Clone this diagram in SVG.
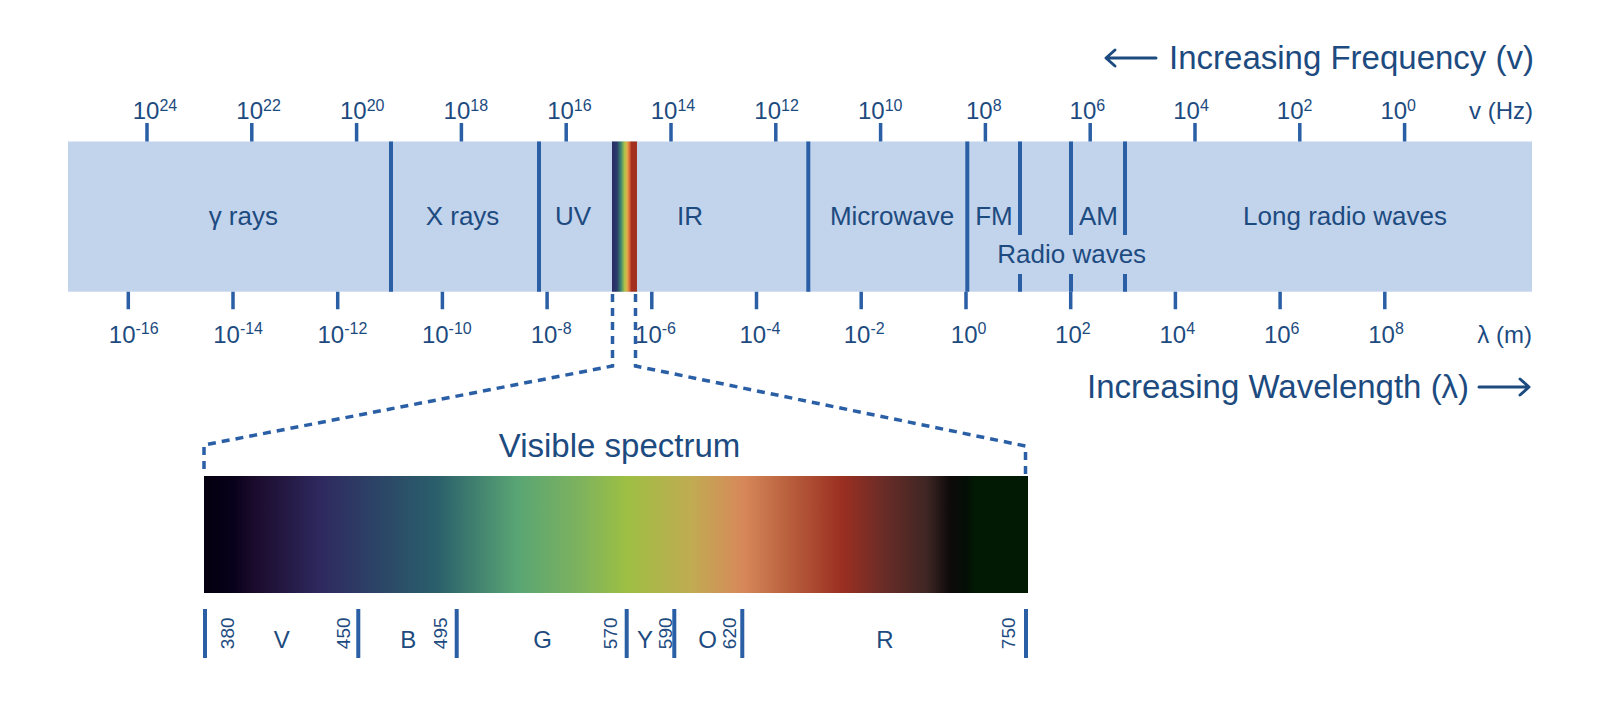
<svg xmlns="http://www.w3.org/2000/svg" width="1600" height="701" viewBox="0 0 1600 701">
<style>
text{font-family:"Liberation Sans",Arial,Helvetica,sans-serif;fill:#1d4b80}
.band{font-size:26px;text-anchor:middle}
.title{font-size:33px}
.ax{font-size:24px;text-anchor:middle}
.sup{font-size:16px}
.wl{font-size:19px;text-anchor:middle}
.col{font-size:24px;text-anchor:middle}
.tk{stroke:#2a5fa6;stroke-width:3.5;fill:none}
.dv{stroke:#2a5fa6;stroke-width:4;fill:none}
.dash{stroke:#2a5fa6;stroke-width:3.5;fill:none;stroke-dasharray:8 6}
.arr{stroke:#1d4b80;stroke-width:3;fill:none;stroke-linecap:round;stroke-linejoin:round}
</style>
<defs>
<linearGradient id="rainbow" x1="0" y1="0" x2="1" y2="0">
<stop offset="0" stop-color="#2a2b66"/>
<stop offset="0.2" stop-color="#2b3b6a"/>
<stop offset="0.36" stop-color="#3d896c"/>
<stop offset="0.5" stop-color="#a8c24a"/>
<stop offset="0.6" stop-color="#e2b04c"/>
<stop offset="0.7" stop-color="#d8683a"/>
<stop offset="0.78" stop-color="#a3301f"/>
<stop offset="1" stop-color="#a3301f"/>
</linearGradient>
<linearGradient id="visible" x1="0" y1="0" x2="1" y2="0">
<stop offset="0" stop-color="#04000f"/>
<stop offset="0.035" stop-color="#07011a"/>
<stop offset="0.06" stop-color="#1b0a2b"/>
<stop offset="0.144" stop-color="#2f2a60"/>
<stop offset="0.21" stop-color="#2c4466"/>
<stop offset="0.283" stop-color="#2a5f6b"/>
<stop offset="0.38" stop-color="#59a574"/>
<stop offset="0.46" stop-color="#7fb35c"/>
<stop offset="0.513" stop-color="#9dbf43"/>
<stop offset="0.59" stop-color="#c0ac52"/>
<stop offset="0.654" stop-color="#d7885a"/>
<stop offset="0.703" stop-color="#bc6440"/>
<stop offset="0.775" stop-color="#9a2f21"/>
<stop offset="0.824" stop-color="#6b2c27"/>
<stop offset="0.877" stop-color="#3e2624"/>
<stop offset="0.905" stop-color="#0e0a0a"/>
<stop offset="0.924" stop-color="#050e06"/>
<stop offset="0.936" stop-color="#021a04"/>
<stop offset="1" stop-color="#021a04"/>
</linearGradient>
</defs>

<g id="freq-title">
<path class="arr" d="M1156,58 H1106 M1115,50 L1106,58 L1115,66"/>
<text class="title" x="1534" y="68.5" text-anchor="end">Increasing Frequency (v)</text>
</g>

<g id="wave-title">
<text class="title" x="1087" y="397.7">Increasing Wavelength (λ)</text>
<path class="arr" d="M1479,387 H1529 M1520,379 L1529,387 L1520,395"/>
</g>

<g id="band">
<rect x="68" y="141.5" width="1464" height="150.2" fill="#c2d3ec"/>
<rect x="612" y="141.5" width="25" height="150.2" fill="url(#rainbow)"/>
</g>

<g id="dividers">
<path class="dv" d="M391,141.5V291.7 M539,141.5V291.7 M808.3,141.5V291.7 M967.3,141.5V291.7 M1020,141.5V235 M1020,274V291.7 M1071,141.5V235 M1071,274V291.7 M1125,141.5V235 M1125,274V291.7"/>
</g>

<g id="band-labels">
<text class="band" x="243.3" y="225">γ rays</text>
<text class="band" x="462.5" y="225">X rays</text>
<text class="band" x="573" y="225">UV</text>
<text class="band" x="690" y="225">IR</text>
<text class="band" x="892" y="225">Microwave</text>
<text class="band" x="994" y="225">FM</text>
<text class="band" x="1098.5" y="225">AM</text>
<text class="band" x="1071.7" y="263">Radio waves</text>
<text class="band" x="1345" y="225">Long radio waves</text>
</g>

<g id="freq-axis">
<path class="tk" d="M147,123V141.5 M251.8,123V141.5 M356.6,123V141.5 M461.4,123V141.5 M566.2,123V141.5 M671,123V141.5 M775.8,123V141.5 M880.6,123V141.5 M985.4,123V141.5 M1090.2,123V141.5 M1195,123V141.5 M1299.8,123V141.5 M1404.6,123V141.5"/>
<text class="ax" x="155" y="119">10<tspan class="sup" dy="-8.5">24</tspan></text>
<text class="ax" x="258.6" y="119">10<tspan class="sup" dy="-8.5">22</tspan></text>
<text class="ax" x="362.2" y="119">10<tspan class="sup" dy="-8.5">20</tspan></text>
<text class="ax" x="465.8" y="119">10<tspan class="sup" dy="-8.5">18</tspan></text>
<text class="ax" x="569.4" y="119">10<tspan class="sup" dy="-8.5">16</tspan></text>
<text class="ax" x="673" y="119">10<tspan class="sup" dy="-8.5">14</tspan></text>
<text class="ax" x="776.6" y="119">10<tspan class="sup" dy="-8.5">12</tspan></text>
<text class="ax" x="880.2" y="119">10<tspan class="sup" dy="-8.5">10</tspan></text>
<text class="ax" x="983.8" y="119">10<tspan class="sup" dy="-8.5">8</tspan></text>
<text class="ax" x="1087.4" y="119">10<tspan class="sup" dy="-8.5">6</tspan></text>
<text class="ax" x="1191" y="119">10<tspan class="sup" dy="-8.5">4</tspan></text>
<text class="ax" x="1294.6" y="119">10<tspan class="sup" dy="-8.5">2</tspan></text>
<text class="ax" x="1398.2" y="119">10<tspan class="sup" dy="-8.5">0</tspan></text>
<text class="ax" x="1533" y="119" text-anchor="end" style="text-anchor:end">v (Hz)</text>
</g>

<g id="wavelength-axis">
<path class="tk" d="M128.3,291.7V309.3 M233,291.7V309.3 M337.7,291.7V309.3 M442.4,291.7V309.3 M547.1,291.7V309.3 M651.8,291.7V309.3 M756.5,291.7V309.3 M861.2,291.7V309.3 M966,291.7V309.3 M1070.7,291.7V309.3 M1175.4,291.7V309.3 M1280.1,291.7V309.3 M1384.8,291.7V309.3"/>
<text class="ax" x="133.7" y="343">10<tspan class="sup" dy="-9">-16</tspan></text>
<text class="ax" x="238.1" y="343">10<tspan class="sup" dy="-9">-14</tspan></text>
<text class="ax" x="342.4" y="343">10<tspan class="sup" dy="-9">-12</tspan></text>
<text class="ax" x="446.8" y="343">10<tspan class="sup" dy="-9">-10</tspan></text>
<text class="ax" x="551.1" y="343">10<tspan class="sup" dy="-9">-8</tspan></text>
<text class="ax" x="655.5" y="343">10<tspan class="sup" dy="-9">-6</tspan></text>
<text class="ax" x="759.9" y="343">10<tspan class="sup" dy="-9">-4</tspan></text>
<text class="ax" x="864.2" y="343">10<tspan class="sup" dy="-9">-2</tspan></text>
<text class="ax" x="968.6" y="343">10<tspan class="sup" dy="-9">0</tspan></text>
<text class="ax" x="1072.9" y="343">10<tspan class="sup" dy="-9">2</tspan></text>
<text class="ax" x="1177.3" y="343">10<tspan class="sup" dy="-9">4</tspan></text>
<text class="ax" x="1281.7" y="343">10<tspan class="sup" dy="-9">6</tspan></text>
<text class="ax" x="1386" y="343">10<tspan class="sup" dy="-9">8</tspan></text>
<text class="ax" x="1532" y="343" style="text-anchor:end">λ (m)</text>
</g>

<g id="connectors">
<path class="dash" d="M612.5,294V366L204,445V474"/>
<path class="dash" d="M635.5,294V366L1025.5,446V474"/>
</g>

<g id="visible-spectrum">
<text class="title" x="619.5" y="457.3" text-anchor="middle">Visible spectrum</text>
<rect x="204" y="476" width="824" height="117" fill="url(#visible)"/>
</g>

<g id="visible-scale">
<path class="dv" d="M205,609V658 M358.3,609V658 M456.7,609V658 M626.7,609V658 M674.3,609V658 M742.3,609V658 M1026,609V658"/>
<text class="wl" transform="translate(233.5,633.3) rotate(-90)">380</text>
<text class="wl" transform="translate(350,633.3) rotate(-90)">450</text>
<text class="wl" transform="translate(447.3,633.3) rotate(-90)">495</text>
<text class="wl" transform="translate(616.7,633.3) rotate(-90)">570</text>
<text class="wl" transform="translate(671.7,633.3) rotate(-90)">590</text>
<text class="wl" transform="translate(736,633.3) rotate(-90)">620</text>
<text class="wl" transform="translate(1015,633.3) rotate(-90)">750</text>
<text class="col" x="281.7" y="647.5">V</text>
<text class="col" x="408.3" y="647.5">B</text>
<text class="col" x="542.5" y="647.5">G</text>
<text class="col" x="645" y="647.5">Y</text>
<text class="col" x="707.5" y="647.5">O</text>
<text class="col" x="885" y="647.5">R</text>
</g>
</svg>
